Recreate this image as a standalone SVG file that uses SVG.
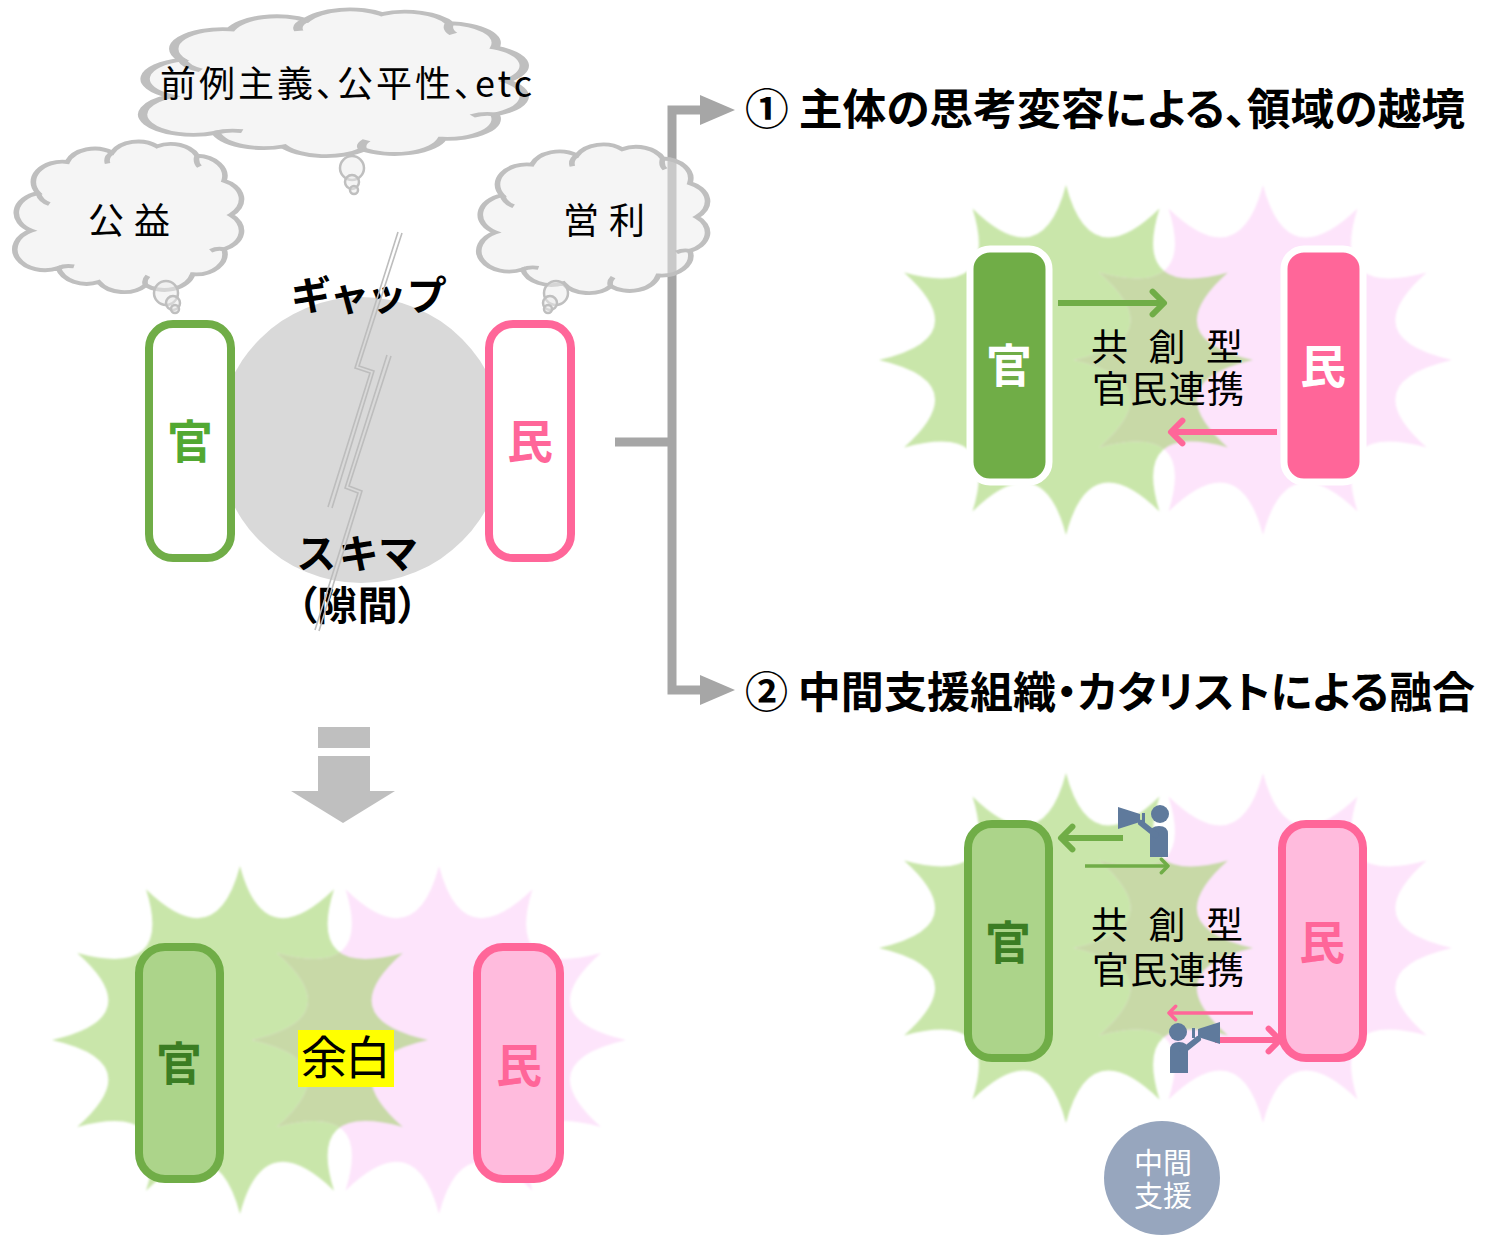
<svg xmlns="http://www.w3.org/2000/svg" xmlns:xlink="http://www.w3.org/1999/xlink" width="1504" height="1236" viewBox="0 0 1504 1236">
  <style>
    text { font-family: "Noto Sans CJK JP", "Noto Sans", sans-serif; font-feature-settings: "palt"; }
    .cloud { fill: #ececec; fill-opacity: 0.5; stroke: #bfbfbf; stroke-width: 2.5; }
    .hook { fill: none; stroke: #bfbfbf; stroke-width: 2.5; }
    .gstar { fill: #c9e6aa; }
    .pstar { fill: #fde4fb; }
    .xstar { fill: #c8d9a7; }
    .bracket { fill: none; stroke: #a6a6a6; stroke-width: 9; }
    .head { fill: #a6a6a6; }
    .garrow { fill: none; stroke: #70ad47; marker-end: url(#chevG); }
    .parrow { fill: none; stroke: #ff6699; marker-end: url(#chevP); }
    .crack { fill: none; stroke: #bdbdbd; stroke-width: 1.6; }
    .person { fill: #5f7a9c; }
    .big { font-size: 40px; font-weight: 700; fill: #000; }
    .heading { font-size: 43px; font-weight: 700; fill: #000; }
    .think { font-size: 36px; fill: #000; }
    .mid { font-size: 37px; fill: #000; }
  </style>
  <defs>
    <!-- 12-point burst, radius 100 around the origin -->
    <path id="star" d="M0,-100 Q12.8,-47.7 50,-86.6 Q34.9,-34.9 86.6,-50 Q47.7,-12.8 100,0 Q47.7,12.8 86.6,50 Q34.9,34.9 50,86.6 Q12.8,47.7 0,100 Q-12.8,47.7 -50,86.6 Q-34.9,34.9 -86.6,50 Q-47.7,12.8 -100,0 Q-47.7,-12.8 -86.6,-50 Q-34.9,-34.9 -50,-86.6 Q-12.8,-47.7 0,-100 Z"/>
    <!-- thought cloud in a 100x100 box -->
    <path id="cloud" d="M6,60 A13,13 0 0 1 9,36 A13,13 0 0 1 22,16 A13,13 0 0 1 42,10 A13,13 0 0 1 62,6 A13,13 0 0 1 80,12 A13,13 0 0 1 92,28 A13,13 0 0 1 95,50 A13,13 0 0 1 92,72 A13,13 0 0 1 78,88 A13,13 0 0 1 57,95 A13,13 0 0 1 36,93 A13,13 0 0 1 18,84 A13,13 0 0 1 6,60 Z"/>
    <path id="cloudHooks" d="M9,36 q1,5 5,7 M42,10 q-3,3 -2,7 M80,12 q-1,4 1,7 M92,72 q-3,-1 -6,1 M57,95 q-1,-3 1,-6 M18,84 q3,-2 7,-1"/>
    <clipPath id="clipTR"><use xlink:href="#star" transform="translate(1263,360) scale(1.89,1.75)"/></clipPath>
    <clipPath id="clipBR"><use xlink:href="#star" transform="translate(1263,948) scale(1.89,1.75)"/></clipPath>
    <clipPath id="clipBL"><use xlink:href="#star" transform="translate(439,1040) scale(1.87,1.74)"/></clipPath>
    <filter id="soft" x="-5%" y="-5%" width="110%" height="110%"><feGaussianBlur stdDeviation="1.2"/></filter>
    <marker id="chevG" viewBox="0 0 4 8" markerWidth="4" markerHeight="8" refX="2.6" refY="4" orient="auto" markerUnits="strokeWidth">
      <path d="M0.7,2.1 L2.6,4 L0.7,5.9" fill="none" stroke="#70ad47" stroke-width="1" stroke-linecap="round" stroke-linejoin="round"/>
    </marker>
    <marker id="chevP" viewBox="0 0 4 8" markerWidth="4" markerHeight="8" refX="2.6" refY="4" orient="auto" markerUnits="strokeWidth">
      <path d="M0.7,2.1 L2.6,4 L0.7,5.9" fill="none" stroke="#ff6699" stroke-width="1" stroke-linecap="round" stroke-linejoin="round"/>
    </marker>
  </defs>

  <rect width="1504" height="1236" fill="#ffffff"/>

  <!-- burst backgrounds -->
  <g id="burst-top-right" filter="url(#soft)">
    <use xlink:href="#star" class="gstar" transform="translate(1066,360) scale(1.87,1.75)"/>
    <use xlink:href="#star" class="pstar" transform="translate(1263,360) scale(1.89,1.75)"/>
    <g clip-path="url(#clipTR)"><use xlink:href="#star" class="xstar" transform="translate(1066,360) scale(1.87,1.75)"/></g>
  </g>
  <g id="burst-bottom-right" filter="url(#soft)">
    <use xlink:href="#star" class="gstar" transform="translate(1066,948) scale(1.87,1.75)"/>
    <use xlink:href="#star" class="pstar" transform="translate(1263,948) scale(1.89,1.75)"/>
    <g clip-path="url(#clipBR)"><use xlink:href="#star" class="xstar" transform="translate(1066,948) scale(1.87,1.75)"/></g>
  </g>
  <g id="burst-bottom-left" filter="url(#soft)">
    <use xlink:href="#star" class="gstar" transform="translate(240,1040) scale(1.88,1.74)"/>
    <use xlink:href="#star" class="pstar" transform="translate(439,1040) scale(1.87,1.74)"/>
    <g clip-path="url(#clipBL)"><use xlink:href="#star" class="xstar" transform="translate(240,1040) scale(1.88,1.74)"/></g>
  </g>

  <!-- connectors -->
  <g id="connectors">
    <path class="bracket" d="M615,442 H672 M704,110 H672 V690 H704"/>
    <polygon class="head" points="700,95 735,110 700,125"/>
    <polygon class="head" points="700,675 735,690 700,705"/>
    <!-- top-right exchange -->
    <path class="garrow" stroke-width="6" d="M1058,303 H1164"/>
    <path class="parrow" stroke-width="6" d="M1277,432 H1171"/>
    <!-- bottom-right exchange -->
    <path class="garrow" stroke-width="6" d="M1123,838 H1061"/>
    <path class="garrow" stroke-width="3.5" d="M1085,866 H1168"/>
    <path class="parrow" stroke-width="3.5" d="M1253,1013 H1169"/>
    <path class="parrow" stroke-width="6" d="M1215,1040 H1280"/>
    <!-- down arrow -->
    <g fill="#bfbfbf">
      <rect x="318" y="727" width="52" height="21"/>
      <rect x="318" y="756" width="52" height="35"/>
      <polygon points="291,791 395,791 343,823"/>
    </g>
  </g>

  <!-- gap between the two sides -->
  <g id="gap">
    <circle cx="361" cy="440" r="143" fill="#d9d9d9"/>
    <text class="big" x="291" y="310" font-size="42" textLength="154">ギャップ</text>
    <text class="big" x="298" y="568" font-size="42" textLength="119">スキマ</text>
    <text class="big" x="297" y="620" textLength="121">（隙間）</text>
    <g class="crack">
      <polyline points="398,232 355,368 370,373 328,507"/>
      <polyline points="402,233 359,366 374,371 332,508"/>
      <polyline points="387,355 345,488 358,493 315,630"/>
      <polyline points="391,356 349,486 362,491 319,631"/>
    </g>
  </g>

  <g id="gov-top">
    <rect x="149" y="324" width="82" height="234" rx="24" fill="#ffffff" stroke="#70ad47" stroke-width="8"/>
    <text x="190" y="458" font-size="46" font-weight="700" text-anchor="middle" fill="#52a832">官</text>
  </g>
  <g id="pvt-top">
    <rect x="489" y="324" width="82" height="234" rx="24" fill="#ffffff" stroke="#ff6699" stroke-width="8"/>
    <text x="530" y="458" font-size="46" font-weight="700" text-anchor="middle" fill="#ff6699">民</text>
  </g>

  <!-- thought clouds -->
  <g id="cloud-top">
    <use xlink:href="#cloud" class="cloud" transform="translate(148,5) scale(3.77,1.52)"/>
    <use xlink:href="#cloudHooks" class="hook" transform="translate(148,5) scale(3.77,1.52)"/>
    <circle class="cloud" cx="352" cy="168" r="12"/>
    <circle class="cloud" cx="352" cy="182" r="7"/>
    <circle class="cloud" cx="354" cy="190" r="4"/>
    <text class="think" x="160" y="97" textLength="372">前例主義、公平性、etc</text>
  </g>
  <g id="cloud-public">
    <use xlink:href="#cloud" class="cloud" transform="translate(18,137) scale(2.24,1.56)"/>
    <use xlink:href="#cloudHooks" class="hook" transform="translate(18,137) scale(2.24,1.56)"/>
    <circle class="cloud" cx="166" cy="293" r="12"/>
    <circle class="cloud" cx="173" cy="303" r="7"/>
    <circle class="cloud" cx="175" cy="309" r="4"/>
    <text class="think" x="88" y="234" textLength="82">公益</text>
  </g>
  <g id="cloud-profit">
    <use xlink:href="#cloud" class="cloud" transform="translate(482,140) scale(2.26,1.54)"/>
    <use xlink:href="#cloudHooks" class="hook" transform="translate(482,140) scale(2.26,1.54)"/>
    <circle class="cloud" cx="556" cy="293" r="12"/>
    <circle class="cloud" cx="550" cy="303" r="7"/>
    <circle class="cloud" cx="548" cy="309" r="4"/>
    <text class="think" x="563" y="234" textLength="82">営利</text>
  </g>

  <!-- headings -->
  <text id="heading-1" class="heading" x="745" y="125" textLength="720" lengthAdjust="spacingAndGlyphs">① 主体の思考変容による、領域の越境</text>
  <text id="heading-2" class="heading" x="745" y="708" textLength="730" lengthAdjust="spacingAndGlyphs">② 中間支援組織・カタリストによる融合</text>

  <!-- top-right: co-creation -->
  <g id="gov-cocreate">
    <rect x="970" y="249" width="79" height="233" rx="20" fill="#70ad47" stroke="#ffffff" stroke-width="7"/>
    <text x="1009" y="382" font-size="46" font-weight="700" text-anchor="middle" fill="#ffffff">官</text>
  </g>
  <g id="pvt-cocreate">
    <rect x="1284" y="249" width="79" height="233" rx="20" fill="#ff6699" stroke="#ffffff" stroke-width="7"/>
    <text x="1323" y="383" font-size="46" font-weight="700" text-anchor="middle" fill="#ffffff">民</text>
  </g>
  <g id="label-cocreate">
    <text class="mid" x="1091" y="361" textLength="152">共 創 型</text>
    <text class="mid" x="1092" y="403" textLength="152">官民連携</text>
  </g>

  <!-- bottom-right: intermediary -->
  <g id="gov-fusion">
    <rect x="968" y="824" width="81" height="234" rx="24" fill="#acd48a" stroke="#70ad47" stroke-width="8"/>
    <text x="1008" y="959" font-size="46" font-weight="700" text-anchor="middle" fill="#3b7d23">官</text>
  </g>
  <g id="pvt-fusion">
    <rect x="1282" y="824" width="81" height="234" rx="24" fill="#ffbbdd" stroke="#ff6699" stroke-width="8"/>
    <text x="1322" y="959" font-size="46" font-weight="700" text-anchor="middle" fill="#ff6699">民</text>
  </g>
  <g id="label-fusion">
    <text class="mid" x="1091" y="939" textLength="152">共 創 型</text>
    <text class="mid" x="1092" y="984" textLength="152">官民連携</text>
  </g>
  <g id="catalyst-upper" class="person">
    <circle cx="1160" cy="814" r="9"/>
    <path d="M1150,857 V834 Q1150,826 1159,826 Q1168,826 1168,834 V857 Z"/>
    <line x1="1156" y1="835" x2="1141" y2="823" stroke="#5f7a9c" stroke-width="6" stroke-linecap="round"/>
    <polygon points="1118,807 1140,814 1140,822 1118,829"/>
    <rect x="1142" y="813" width="3" height="10"/>
  </g>
  <g id="catalyst-lower" class="person">
    <circle cx="1178" cy="1032" r="9"/>
    <path d="M1170,1073 V1050 Q1170,1042 1179,1042 Q1188,1042 1188,1050 V1073 Z"/>
    <line x1="1183" y1="1051" x2="1198" y2="1039" stroke="#5f7a9c" stroke-width="6" stroke-linecap="round"/>
    <polygon points="1198,1029 1220,1022 1220,1044 1198,1037"/>
    <rect x="1192" y="1028" width="3" height="10"/>
  </g>
  <g id="intermediary">
    <ellipse cx="1162" cy="1178" rx="58" ry="57" fill="#97a6be"/>
    <text x="1163" y="1174" font-size="29" text-anchor="middle" fill="#ffffff">中間</text>
    <text x="1163" y="1207" font-size="29" text-anchor="middle" fill="#ffffff">支援</text>
  </g>

  <!-- bottom-left: margin -->
  <g id="gov-margin">
    <rect x="139" y="947" width="81" height="232" rx="26" fill="#acd48a" stroke="#70ad47" stroke-width="8"/>
    <text x="179" y="1080" font-size="46" font-weight="700" text-anchor="middle" fill="#3b7d23">官</text>
  </g>
  <g id="pvt-margin">
    <rect x="477" y="947" width="83" height="232" rx="26" fill="#ffbbdd" stroke="#ff6699" stroke-width="8"/>
    <text x="519" y="1082" font-size="46" font-weight="700" text-anchor="middle" fill="#ff6699">民</text>
  </g>
  <g id="margin">
    <rect x="298" y="1030" width="96" height="57" fill="#ffff00"/>
    <text x="301" y="1074" font-size="46" textLength="90" fill="#000000">余白</text>
  </g>
</svg>
